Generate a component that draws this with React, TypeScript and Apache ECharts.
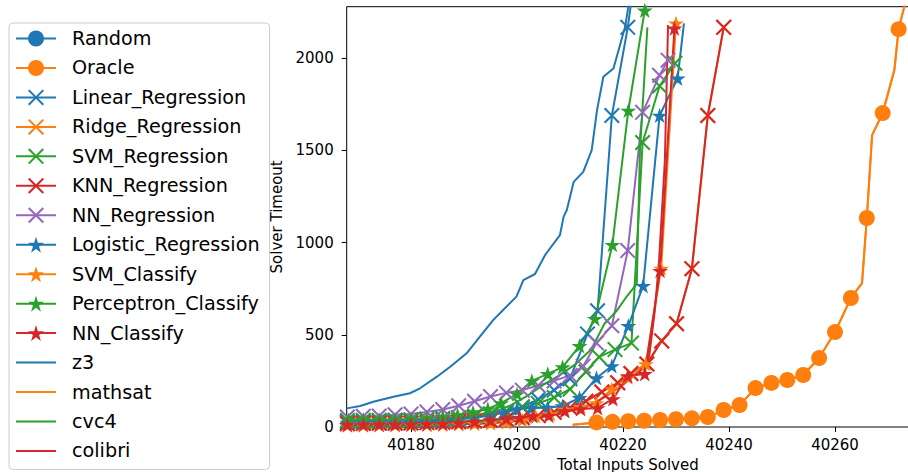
import React, { useEffect, useRef } from "react";
import * as echarts from "echarts";

type P = [number, number];

// ---- axis ranges / ticks ----
const xMin = 40167.87;
const xMax = 40273.96;
const yMin = 0;
const yMax = 2280;
const xTickValues = [40180, 40200, 40220, 40240, 40260];
const yInterval = 500;

// ---- legend order ----
const seriesNames = [
  "Random", "Oracle", "Linear_Regression", "Ridge_Regression", "SVM_Regression",
  "KNN_Regression", "NN_Regression", "Logistic_Regression", "SVM_Classify",
  "Perceptron_Classify", "NN_Classify", "z3", "mathsat", "cvc4", "colibri",
];
const lineOnlyNames = ["z3", "mathsat", "cvc4", "colibri"];

// ---- data (x = total inputs solved, y = solver timeout) ----
const randomPts: P[] = [];

const oraclePts: P[] = [
  [40215, 25], [40218, 28], [40221, 31], [40224, 34], [40227, 38], [40230, 42], [40233, 47],
  [40236, 54], [40239, 92], [40242, 119], [40245, 211], [40248, 239], [40251, 255], [40254, 282],
  [40257, 374], [40260, 515], [40263, 700], [40266, 1134], [40269, 1703], [40272, 2158],
];
const oracleLineOnly: P[] = [
  [40210.5, 12], [40265.1, 781], [40267, 1583], [40271.2, 1936], [40273.5, 2330],
];

const linearPts: P[] = [
  [40168, 28], [40171, 29], [40174, 30], [40177, 31], [40180, 33], [40183, 36], [40186, 40],
  [40189, 46], [40192, 55], [40195, 66], [40198, 80], [40201, 110], [40204, 150], [40207, 200],
  [40210, 262], [40213.3, 505], [40215.2, 630], [40217.9, 1690], [40220.9, 2168], [40222, 2400],
];

const ridgePts: P[] = [
  [40168, 18], [40171, 19], [40174, 20], [40177, 21], [40180, 22], [40183, 24], [40186, 26],
  [40189, 29], [40192, 32], [40195, 36], [40198, 42], [40201, 50], [40204, 62], [40207, 80],
  [40210, 105], [40213, 140], [40216, 190], [40219, 240], [40221.5, 290], [40224.5, 342],
  [40227.3, 467], [40230.1, 560], [40233, 859], [40236, 1690], [40239, 2168],
];

const svmRegPts: P[] = [
  [40168, 35], [40171, 36], [40174, 37], [40177, 38], [40180, 40], [40183, 43], [40186, 47],
  [40189, 52], [40192, 60], [40195, 72], [40198, 88], [40201, 105], [40204, 128], [40207, 160],
  [40210, 205], [40213, 300], [40215.5, 380], [40218.5, 420], [40221.6, 455], [40223.7, 1543],
  [40226.9, 1850], [40229.8, 1973],
];

const knnPts: P[] = [
  [40168, 18], [40171, 19], [40174, 20], [40177, 21], [40180, 22], [40183, 24], [40186, 26],
  [40189, 29], [40192, 32], [40195, 36], [40198, 42], [40201, 50], [40204, 62], [40207, 80],
  [40210, 105], [40213, 140], [40216, 190], [40219, 240], [40221.5, 290], [40224.5, 342],
  [40227.3, 467], [40230.1, 560], [40233, 859], [40236, 1690], [40239, 2168],
];

const nnRegPts: P[] = [
  [40168, 54], [40171, 58], [40174, 60], [40177, 66], [40180, 70], [40183, 82], [40186, 95],
  [40189, 115], [40192, 140], [40195, 165], [40198, 185], [40201, 200], [40204, 225],
  [40207, 250], [40210, 280], [40212.5, 330], [40215, 456], [40217.9, 549], [40220.9, 957],
  [40223.7, 1707], [40226.9, 1908], [40228.5, 1990],
];

const logisticPts: P[] = [
  [40168, 24], [40171, 25], [40174, 26], [40177, 27], [40180, 29], [40183, 31], [40186, 34],
  [40189, 40], [40192, 50], [40195, 62], [40197.5, 80], [40200, 98], [40202.8, 103],
  [40205.8, 105], [40208.6, 114], [40211.8, 158], [40215, 266], [40217.9, 331], [40221, 549],
  [40223.8, 766], [40226.9, 1690], [40230.3, 1891],
];
const logisticLineOnly: P[] = [[40231.5, 2190]];

const svmClsPts: P[] = [
  [40168, 10], [40171, 10], [40174, 11], [40177, 11], [40180, 12], [40183, 13], [40186, 14],
  [40189, 16], [40192, 18], [40195, 21], [40198, 26], [40201, 38], [40203.5, 60], [40206.3, 70],
  [40209, 95], [40212, 110], [40215, 130], [40217.9, 206], [40220.9, 270], [40224.3, 342],
  [40227.2, 860], [40230, 2190],
];

const perceptronPts: P[] = [
  [40168.2, 38], [40171, 40], [40174, 40], [40177, 42], [40180, 44], [40183, 48], [40186, 55],
  [40188.8, 65], [40191.7, 80], [40194.5, 98], [40197, 130], [40200, 179], [40202.8, 250],
  [40205.8, 288], [40208.6, 325], [40211.8, 440], [40214.7, 587], [40218, 989], [40221, 1717],
  [40224.1, 2260], [40226, 2400],
];

const nnClsPts: P[] = [
  [40168, 12], [40171, 13], [40174, 13], [40177, 14], [40180, 15], [40183, 16], [40186, 18],
  [40189, 22], [40192, 28], [40195, 36], [40198, 45], [40200.5, 50], [40203, 60], [40206, 62],
  [40209, 87], [40212, 98], [40215.2, 103], [40218.1, 152], [40220.9, 277], [40224.1, 288],
  [40227, 848], [40229.7, 2163],
];

const z3Pts: P[] = [
  [40167.9, 101], [40170.4, 114], [40172.9, 137], [40176.7, 164], [40179.8, 183], [40181.7, 210],
  [40184.9, 273], [40187.4, 327], [40190.5, 400], [40193, 490], [40195.5, 580], [40198, 652],
  [40199.9, 707], [40201.2, 797], [40203.4, 830], [40205.3, 933], [40208.1, 1041],
  [40208.8, 1141], [40209.4, 1177], [40210.7, 1330], [40211.6, 1357], [40212.5, 1384],
  [40214.1, 1502], [40215.1, 1719], [40216.3, 1900], [40218.2, 1945], [40220.4, 2171],
  [40221, 2279], [40221.3, 2350],
];

const mathsatPts: P[] = [
  [40210.5, 12], [40215, 25], [40218, 28], [40221, 31], [40224, 34], [40227, 38], [40230, 42],
  [40233, 47], [40236, 54], [40239, 92], [40242, 119], [40245, 211], [40248, 239], [40251, 255],
  [40254, 282], [40257, 374], [40260, 515], [40263, 700], [40265.1, 781], [40266, 1134],
  [40267, 1583], [40269, 1703], [40271.2, 1936], [40272, 2158], [40273.5, 2330],
];

const cvc4Pts: P[] = [
  [40168, 33], [40172, 34], [40176, 36], [40180, 38], [40184, 42], [40188, 50], [40192, 62],
  [40196, 85], [40199, 120], [40202, 170], [40205, 230], [40208, 280], [40211, 340],
  [40214, 420], [40216.5, 560], [40218.8, 630], [40220.5, 700], [40222.6, 777], [40223.2, 1500],
  [40224.6, 2168],
];

const colibriPts: P[] = [
  [40168, 8], [40175, 9], [40182, 11], [40188, 14], [40194, 20], [40200, 32], [40204, 50],
  [40208, 70], [40211, 95], [40214, 120], [40217, 170], [40220, 230], [40223, 300],
  [40224.5, 330], [40225, 397], [40226, 630], [40226.8, 900], [40227.9, 1446], [40228.5, 2180],
];

// ---- styles ----
const BLUE = "#1f77b4";
const ORANGE = "#ff7f0e";
const GREEN = "#2ca02c";
const RED = "#d62728";
const PURPLE = "#9467bd";
const FONT = "DejaVu Sans";

function starSymbol(): string {
  const pts: string[] = [];
  for (let i = 0; i < 10; i++) {
    const r = i % 2 === 0 ? 10 : 3.82;
    const a = -Math.PI / 2 + (i * Math.PI) / 5;
    pts.push(`${(10 + r * Math.cos(a)).toFixed(3)},${(10 + r * Math.sin(a)).toFixed(3)}`);
  }
  return "path://M" + pts.join("L") + "Z";
}
const STAR = starSymbol();
const CROSS = "path://M0,0.9L0.9,0L10,9.1L9.1,10Z M0.9,10L0,9.1L9.1,0L10,0.9Z";

function makeSeries(name: string, color: string, symbol: string, pts: P[], lineOnly: P[] = [], size = 16) {
  const data = [
    ...pts.map((p) => ({ value: p })),
    ...lineOnly.map((p) => ({ value: p, symbol: "none" })),
  ].sort((a, b) => a.value[0] - b.value[0]);
  return {
    type: "line",
    name,
    data,
    symbol,
    symbolSize: size,
    symbolKeepAspect: true,
    showSymbol: symbol !== "none",
    color,
    itemStyle: { color },
    lineStyle: { color, width: 2 },
    clip: true,
    silent: true,
    emphasis: { disabled: true },
  };
}

export default function App() {
  const ref = useRef<HTMLDivElement>(null);
  useEffect(() => {
    if (!ref.current) return;
    const chart = echarts.init(ref.current, undefined, { renderer: "svg" });
    const series = [
      makeSeries("Random", BLUE, "circle", randomPts),
      makeSeries("Oracle", ORANGE, "circle", oraclePts, oracleLineOnly),
      makeSeries("Linear_Regression", BLUE, CROSS, linearPts),
      makeSeries("Ridge_Regression", ORANGE, CROSS, ridgePts),
      makeSeries("SVM_Regression", GREEN, CROSS, svmRegPts),
      makeSeries("KNN_Regression", RED, CROSS, knnPts),
      makeSeries("NN_Regression", PURPLE, CROSS, nnRegPts),
      makeSeries("Logistic_Regression", BLUE, STAR, logisticPts, logisticLineOnly),
      makeSeries("SVM_Classify", ORANGE, STAR, svmClsPts),
      makeSeries("Perceptron_Classify", GREEN, STAR, perceptronPts),
      makeSeries("NN_Classify", RED, STAR, nnClsPts),
      makeSeries("z3", BLUE, "none", z3Pts),
      makeSeries("mathsat", ORANGE, "none", mathsatPts),
      makeSeries("cvc4", GREEN, "none", cvc4Pts),
      makeSeries("colibri", RED, "none", colibriPts),
    ];
    const legendData = seriesNames.map((n) =>
      lineOnlyNames.includes(n) ? { name: n, itemStyle: { opacity: 0 } } : { name: n }
    );
    chart.setOption({
      animation: false,
      backgroundColor: "#ffffff",
      textStyle: { fontFamily: FONT },
      grid: {
        left: 346.7,
        top: 6.7,
        right: -1,
        bottom: 45,
        outerBoundsMode: "none",
        containLabel: false,
        show: true,
        borderColor: "#000",
        borderWidth: 1,
        backgroundColor: "transparent",
      },
      legend: {
        data: legendData,
        orient: "vertical",
        left: 9,
        top: 23,
        padding: [5.5, 10, 8.5, 6],
        itemWidth: 40,
        itemHeight: 20,
        itemGap: 9.46,
        backgroundColor: "rgba(255,255,255,0.8)",
        borderColor: "#cccccc",
        borderWidth: 1,
        borderRadius: 4,
        selectedMode: false,
        textStyle: {
          fontFamily: FONT,
          fontSize: 19.2,
          color: "#000",
          lineHeight: 20,
          padding: [0, 0, 0, 11],
        },
      },
      xAxis: {
        type: "value",
        min: xMin,
        max: xMax,
        name: "Total Inputs Solved",
        nameLocation: "middle",
        nameGap: 30,
        nameTextStyle: { fontFamily: FONT, fontSize: 15, color: "#000" },
        axisLine: { show: false },
        splitLine: { show: false },
        axisTick: { show: true, length: 5, customValues: xTickValues, lineStyle: { color: "#000", width: 1 } },
        axisLabel: {
          customValues: xTickValues,
          fontFamily: FONT,
          fontSize: 15,
          color: "#000",
          margin: 10,
          formatter: (v: number) => String(v),
        },
      },
      yAxis: {
        type: "value",
        min: yMin,
        max: yMax,
        interval: yInterval,
        name: "Solver Timeout",
        nameLocation: "middle",
        nameGap: 53,
        nameTextStyle: { fontFamily: FONT, fontSize: 15, color: "#000" },
        axisLine: { show: false },
        splitLine: { show: false },
        axisTick: { show: true, length: 5, lineStyle: { color: "#000", width: 1 } },
        axisLabel: {
          fontFamily: FONT,
          fontSize: 15,
          color: "#000",
          margin: 13,
          showMaxLabel: false,
          formatter: (v: number) => String(v),
        },
      },
      series,
    });
    return () => chart.dispose();
  }, []);
  return (
    <div
      ref={ref}
      style={{ position: "absolute", left: 0, top: 0, width: 908, height: 472, background: "#fff" }}
    />
  );
}
